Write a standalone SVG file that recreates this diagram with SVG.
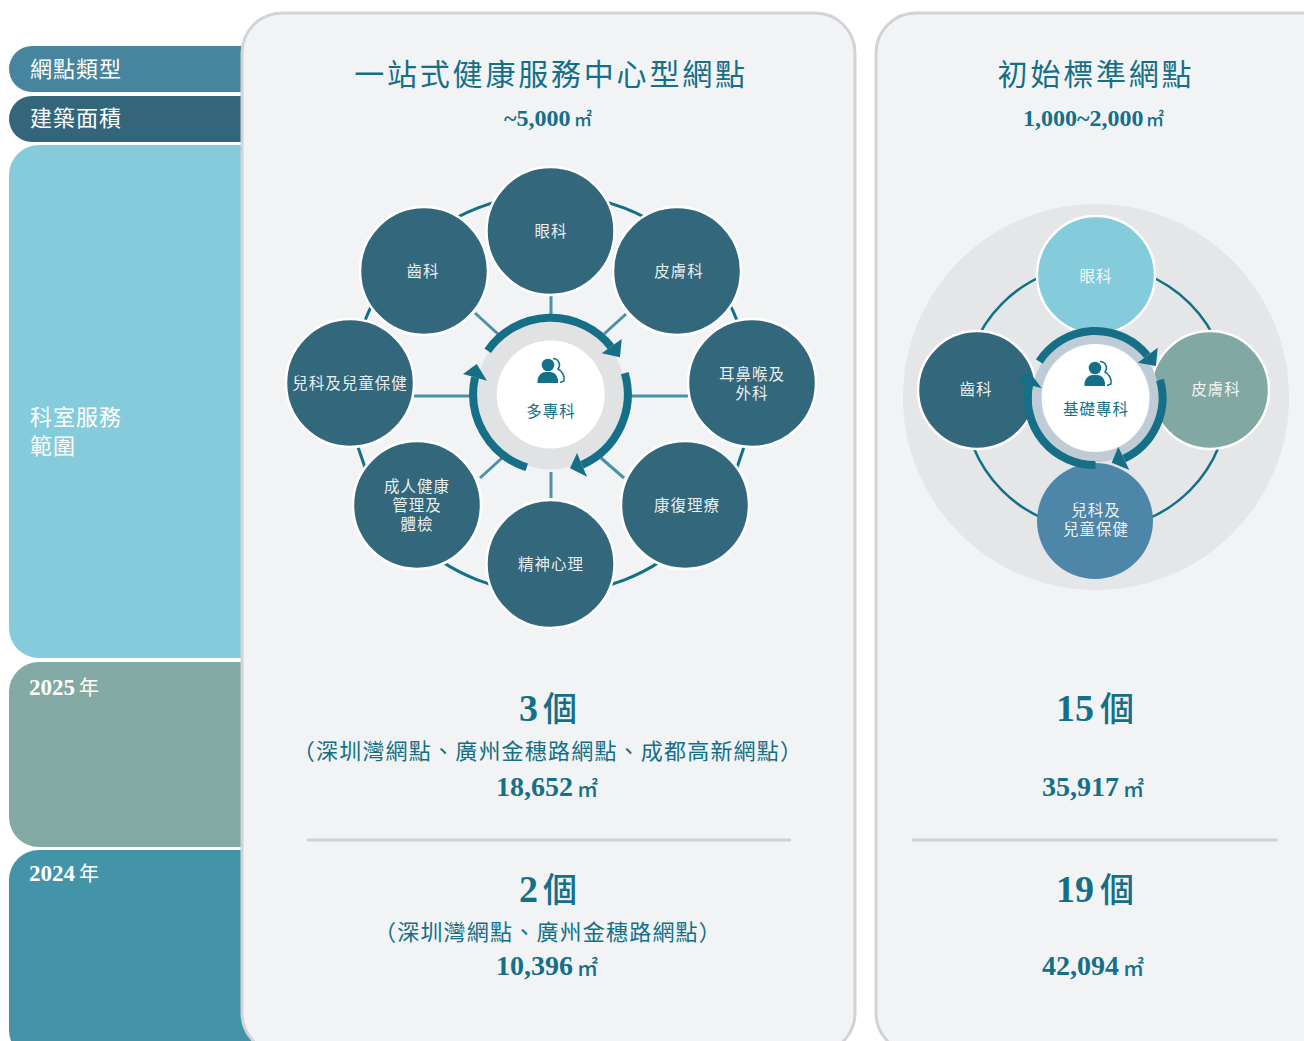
<svg xmlns="http://www.w3.org/2000/svg" width="1304" height="1041" viewBox="0 0 1304 1041">
<defs>
<g id="person"><path d="M-10.5 12 C-11 5 -7 1 -2 1 L2 1 C7 1 10.5 5 10 12 Z" fill="#146f87"/><circle cx="0" cy="-6" r="6.3" fill="#146f87"/><path d="M5 -12.5 A6.5 6.5 0 0 1 10 -2 C14 0 17 5 16 10 L12 11.5" fill="none" stroke="#146f87" stroke-width="1.6"/></g>
</defs>
<style>
text{font-family:"Noto Sans CJK TC","Noto Sans CJK SC",sans-serif;text-spacing-trim:space-all}
.l{fill:#fff;font-size:22px;letter-spacing:1px}
.y{fill:#fff;font-size:23px;font-family:"Liberation Serif",serif;font-weight:bold}
.yc{font-family:"Noto Sans CJK TC",sans-serif;font-weight:400;font-size:20px}
.t{fill:#146f87;font-size:30px;text-anchor:middle;letter-spacing:2.8px}
.s{fill:#146f87;font-size:24px;font-family:"Liberation Serif",serif;font-weight:bold}
.s2{fill:#146f87;font-size:28px;font-family:"Liberation Serif",serif;font-weight:bold}
.u{font-family:"Noto Sans CJK TC",sans-serif;font-weight:500}
.b{fill:#146f87;font-size:38px;font-family:"Liberation Serif",serif;font-weight:bold}
.bc{font-family:"Noto Sans CJK TC",sans-serif;font-weight:500;font-size:34px}
.p{fill:#146f87;font-size:22px;text-anchor:middle;letter-spacing:1.2px}
.n{fill:#fff;font-size:15.5px;text-anchor:middle;letter-spacing:1px;fill-opacity:.92}
.c{fill:#146f87;font-size:15.5px;text-anchor:middle;letter-spacing:1px}
.card{fill:#f1f3f5;stroke:#d1d3d6;stroke-width:3}
.div{stroke:#cfd2d5;stroke-width:3}
.spoke{stroke:#4a92a6;stroke-width:3}
.arc{fill:none;stroke:#146f87;stroke-width:8}
.head{fill:#146f87}
.node1{fill:#33677b;stroke:#fff;stroke-width:2.5}
</style>
<rect width="1304" height="1041" fill="#fff"/>
<g id="rows">
<rect x="9" y="46" width="260" height="46" rx="23" fill="#47849e"/>
<rect x="9" y="96" width="260" height="46" rx="23" fill="#33667b"/>
<rect x="9" y="145" width="260" height="513" rx="30" fill="#84ccdb"/>
<rect x="9" y="662" width="260" height="185" rx="30" fill="#82a9a3"/>
<rect x="9" y="850" width="260" height="210" rx="30" fill="#4494a9"/>
<text class="l" x="30" y="77">網點類型</text>
<text class="l" x="30" y="126">建築面積</text>
<text class="l" x="30" y="425">科室服務</text>
<text class="l" x="30" y="454">範圍</text>
<text class="y" x="29" y="695">2025<tspan class="yc" x="79">年</tspan></text>
<text class="y" x="29" y="881">2024<tspan class="yc" x="79">年</tspan></text>
</g>
<g id="card-a">
<rect class="card" x="242" y="13" width="613" height="1040" rx="40"/>
<text class="t" x="551" y="85">一站式健康服務中心型網點</text>
<text class="s" x="504" y="126">~5,000<tspan class="u" x="574" font-size="18">㎡</tspan></text>
<text class="b" x="519" y="721">3<tspan class="bc" x="543">個</tspan></text>
<text class="p" x="548" y="759">（深圳灣網點、廣州金穗路網點、成都高新網點）</text>
<text class="s2" x="496" y="796">18,652<tspan class="u" x="577" font-size="21">㎡</tspan></text>
<line class="div" x1="307" y1="840" x2="791" y2="840"/>
<text class="b" x="519" y="902">2<tspan class="bc" x="543">個</tspan></text>
<text class="p" x="548" y="940">（深圳灣網點、廣州金穗路網點）</text>
<text class="s2" x="496" y="975">10,396<tspan class="u" x="577" font-size="21">㎡</tspan></text>
</g>
<g id="card-b">
<rect class="card" x="876" y="13" width="600" height="1040" rx="40"/>
<text class="t" x="1096" y="85">初始標準網點</text>
<text class="s" x="1023" y="126">1,000~2,000<tspan class="u" x="1146" font-size="18">㎡</tspan></text>
<circle cx="1096" cy="397" r="193" fill="#e4e6e8"/>
<text class="b" x="1056" y="721">15<tspan class="bc" x="1100">個</tspan></text>
<text class="s2" x="1042" y="796">35,917<tspan class="u" x="1123" font-size="21">㎡</tspan></text>
<line class="div" x1="912" y1="840" x2="1278" y2="840"/>
<text class="b" x="1056" y="902">19<tspan class="bc" x="1100">個</tspan></text>
<text class="s2" x="1042" y="975">42,094<tspan class="u" x="1123" font-size="21">㎡</tspan></text>
</g>
<g id="connectors">
<circle cx="551" cy="394" r="200" fill="none" stroke="#146f87" stroke-width="3"/>
<line class="spoke" x1="551" y1="296" x2="551" y2="316"/>
<line class="spoke" x1="551" y1="472" x2="551" y2="498"/>
<line class="spoke" x1="630" y1="396" x2="688" y2="396"/>
<line class="spoke" x1="414" y1="396" x2="472" y2="396"/>
<line class="spoke" x1="475" y1="313" x2="498" y2="334"/>
<line class="spoke" x1="626" y1="314" x2="604" y2="334"/>
<line class="spoke" x1="601" y1="458" x2="624" y2="478"/>
<line class="spoke" x1="480" y1="478" x2="502" y2="458"/>
<circle cx="1096" cy="397" r="132.5" fill="none" stroke="#146f87" stroke-width="2.5"/>
</g>
<g id="n1"><circle class="node1" cx="550.5" cy="231" r="64"/><text class="n" x="551" y="237">眼科</text></g>
<g id="n2"><circle class="node1" cx="677" cy="271" r="64"/><text class="n" x="679" y="277">皮膚科</text></g>
<g id="n3"><circle class="node1" cx="752" cy="383" r="64"/><text class="n" x="752" y="380">耳鼻喉及</text><text class="n" x="752" y="399">外科</text></g>
<g id="n4"><circle class="node1" cx="685" cy="505" r="64"/><text class="n" x="687" y="511">康復理療</text></g>
<g id="n5"><circle class="node1" cx="550.5" cy="564" r="64"/><text class="n" x="551" y="570">精神心理</text></g>
<g id="n6"><circle class="node1" cx="417" cy="505" r="64"/><text class="n" x="417" y="492">成人健康</text><text class="n" x="417" y="511">管理及</text><text class="n" x="417" y="530">體檢</text></g>
<g id="n7"><circle class="node1" cx="350" cy="383" r="64"/><text class="n" x="350" y="389">兒科及兒童保健</text></g>
<g id="n8"><circle class="node1" cx="424" cy="271" r="64"/><text class="n" x="423" y="277">齒科</text></g>
<g id="hub-a">
<circle cx="550.7" cy="394.5" r="75" fill="#e0e2e4"/>
<circle cx="550.7" cy="394.5" r="54" fill="#fff"/>
<use href="#person" x="548" y="371"/>
<text class="c" x="551" y="417">多專科</text>
<path class="arc" d="M487.7 350.7 A77 77 0 0 1 611 346.7"/>
<polygon class="head" points="621.7,339 620,357.3 601.7,353.3"/>
<path class="arc" d="M624.8 373.2 A77 77 0 0 1 582 464.8"/>
<polygon class="head" points="577,453 587,476.7 570,468.3"/>
<path class="arc" d="M526.7 467.3 A77 77 0 0 1 475 377.3"/>
<polygon class="head" points="476.7,364 463,374 487,380.7"/>
</g>
<g id="m1"><circle cx="1096" cy="275" r="59" fill="#84ccdb" stroke="#fff" stroke-width="2.5"/><text class="n" x="1096" y="282">眼科</text></g>
<g id="m2"><circle cx="1210" cy="390" r="59" fill="#81a8a2" stroke="#fff" stroke-width="2.5"/><text class="n" x="1216" y="395">皮膚科</text></g>
<g id="m3"><circle cx="977" cy="390" r="59" fill="#33677b" stroke="#fff" stroke-width="2.5"/><text class="n" x="976" y="395">齒科</text></g>
<g id="m4"><circle cx="1095" cy="521" r="58" fill="#4d86a8"/><text class="n" x="1096" y="516">兒科及</text><text class="n" x="1096" y="535">兒童保健</text></g>
<g id="hub-b">
<circle cx="1095.5" cy="398" r="64" fill="#bfccd6"/>
<circle cx="1095.5" cy="398" r="54" fill="#fff"/>
<use href="#person" x="1095" y="374"/>
<text class="c" x="1096" y="415">基礎專科</text>
<path class="arc" d="M1039.3 361.5 A67 67 0 0 1 1147.3 355.5"/>
<polygon class="head" points="1157.7,347.7 1156,366 1137.7,362.7"/>
<path class="arc" d="M1160 379.8 A67 67 0 0 1 1124 458.6"/>
<polygon class="head" points="1118.3,446.7 1129.3,470 1111.7,462.7"/>
<path class="arc" d="M1095.5 465 A67 67 0 0 1 1029 385"/>
<polygon class="head" points="1041.7,388.3 1016.7,381.7 1029.3,371.7"/>
</g>
</svg>
